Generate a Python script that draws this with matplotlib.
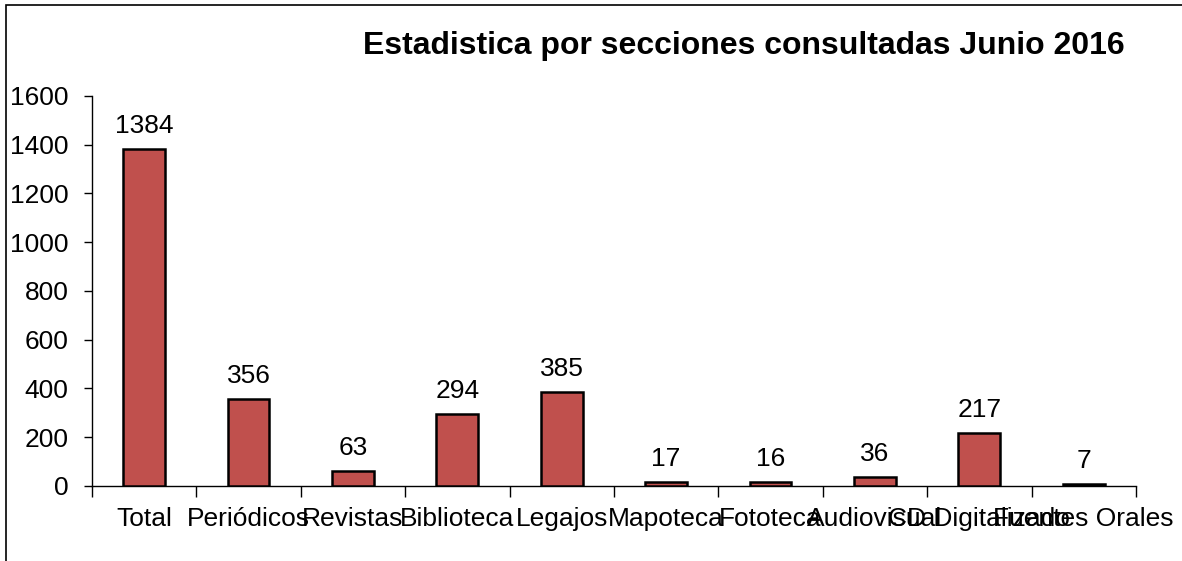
import matplotlib
matplotlib.use("Agg")
import matplotlib.pyplot as plt
from matplotlib.patches import Rectangle
import numpy as np

# data
categories = ["Total", "Periódicos", "Revistas", "Biblioteca", "Legajos",
              "Mapoteca", "Fototeca", "Audiovisual", "CD Digitalizado",
              "Fuentes Orales"]
values = [1384, 356, 63, 294, 385, 17, 16, 36, 217, 7]
y_ticks = [0, 200, 400, 600, 800, 1000, 1200, 1400, 1600]
title = "Estadistica por secciones consultadas Junio 2016"

plt.rcParams["font.family"] = ["Liberation Sans", "DejaVu Sans"]

fig = plt.figure(figsize=(11.82, 5.61), dpi=100)
ax = fig.add_axes([0.0778, 0.1337, 0.8832, 0.6952])

x = np.arange(len(categories))
ax.bar(x, values, width=0.4, color="#C0504D", edgecolor="black", linewidth=1.8, zorder=3)

for xi, v in zip(x, values):
    ax.annotate(str(v), (xi, v), xytext=(0, 8), textcoords="offset points",
                ha="center", va="bottom", fontsize=19)

ax.set_xlim(-0.5, len(categories) - 0.5)
ax.set_ylim(0, 1600)
ax.set_yticks(y_ticks)
ax.tick_params(axis="y", labelsize=19, direction="out", length=6, width=1, pad=11)

# ticks between categories, labels centered
ax.set_xticks(np.arange(len(categories) + 1) - 0.5)
ax.set_xticklabels([])
ax.set_xticks(x, minor=True)
ax.set_xticklabels(categories, minor=True, fontsize=19)
ax.tick_params(axis="x", which="major", direction="out", length=8, width=1)
ax.tick_params(axis="x", which="minor", length=0, pad=15)

for side in ["top", "right"]:
    ax.spines[side].set_visible(False)
for side in ["left", "bottom"]:
    ax.spines[side].set_linewidth(1)

fig.text(0.629, 0.918, title, ha="center", va="center", fontsize=23, fontweight="bold")

# chart frame, cut off at right and bottom
fig.patches.append(Rectangle((6 / 1182, -0.1), 1.2, 1 - 5 / 561 + 0.1,
                             transform=fig.transFigure, fill=False,
                             edgecolor="black", linewidth=1.2))

fig.savefig("out.png", dpi=100)
